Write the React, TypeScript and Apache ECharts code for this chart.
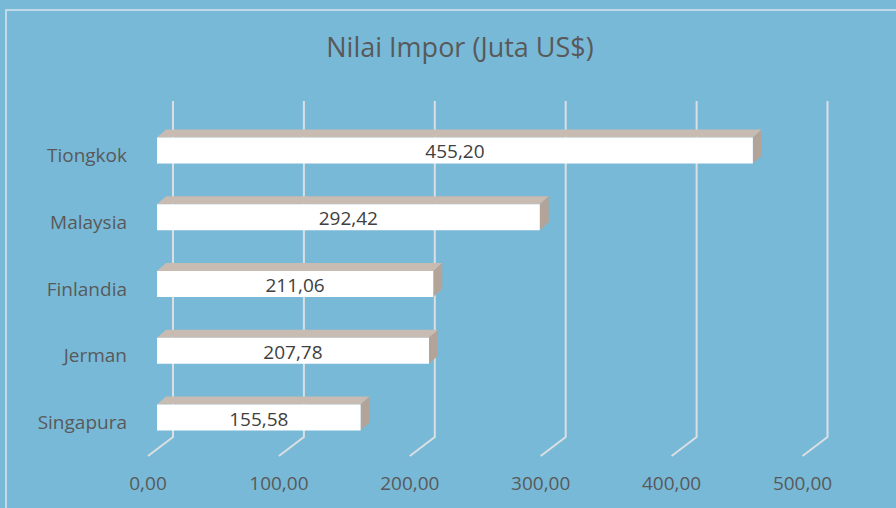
import React, { useEffect, useRef } from "react";
import * as echarts from "echarts";

const categories = ["Tiongkok", "Malaysia", "Finlandia", "Jerman", "Singapura"];
const values = [455.2, 292.42, 211.06, 207.78, 155.58];
const tickValues = [0, 100, 200, 300, 400, 500];
const titleText = "Nilai Impor (Juta US$)";

const fmt = (v: number) => v.toFixed(2).replace(".", ",");

export default function App() {
  const ref = useRef<HTMLDivElement>(null);
  useEffect(() => {
    document.body.style.margin = "0";
    const chart = echarts.init(ref.current!, undefined, { renderer: "svg" });
    const font = "'Open Sans', sans-serif";
    chart.setOption({
      animation: false,
      backgroundColor: "#78b9d8",
      title: {
        text: titleText,
        left: 455,
        textAlign: "center",
        top: 28,
        textStyle: { color: "#595959", fontSize: 27, fontWeight: "normal", fontFamily: font },
      },
      graphic: [
        {
          type: "rect",
          shape: { x: 6, y: 10, width: 900, height: 510 },
          style: { fill: "none", stroke: "#d6e6ef", lineWidth: 1.5 },
          silent: true,
        },
      ],
      grid: { left: 157, top: 117, width: 654.5, height: 334 },
      xAxis: {
        type: "value",
        min: 0,
        max: 500,
        interval: 100,
        axisLine: { show: false },
        axisTick: { show: false },
        splitLine: { show: false },
        axisLabel: {
          formatter: (v: number) => fmt(v),
          color: "#595959",
          fontSize: 19,
          fontFamily: font,
          margin: 22,
          padding: [0, 18, 0, 0],
        },
      },
      yAxis: {
        type: "category",
        data: categories,
        inverse: true,
        axisLine: { show: false },
        axisTick: { show: false },
        splitLine: { show: false },
        axisLabel: {
          margin: 30,
          formatter: (v: string) => `{c|${v}}`,
          rich: {
            c: {
              color: "#595959",
              fontSize: 19,
              fontFamily: font,
              padding: [9, 0, 0, 0],
            },
          },
        },
      },
      series: [
        {
          type: "custom",
          data: tickValues.map((t) => [t, 0]),
          encode: { x: 0, y: 1 },
          z: 1,
          silent: true,
          renderItem: (params: any, api: any) => {
            const p = api.coord([api.value(0), 0]);
            const cs = params.coordSys;
            const top = cs.y - 16;
            const bottom = cs.y + cs.height - 14;
            const front = cs.y + cs.height + 5;
            return {
              type: "polyline",
              shape: {
                points: [
                  [p[0] + 16, top],
                  [p[0] + 16, bottom],
                  [p[0] - 9, front],
                ],
              },
              style: { stroke: "#dcdfe2", lineWidth: 2, fill: "none" },
            };
          },
        },
        {
          type: "custom",
          data: values.map((v, i) => [v, i]),
          encode: { x: 0, y: 1 },
          z: 2,
          renderItem: (params: any, api: any) => {
            const v = api.value(0);
            const ci = api.value(1);
            const s = api.coord([0, ci]);
            const e = api.coord([v, ci]);
            const h = 26;
            const dx = 9;
            const dy = 8;
            const x0 = s[0];
            const x1 = e[0];
            const yc = s[1];
            const yt = yc - h / 2;
            const yb = yc + h / 2;
            return {
              type: "group",
              children: [
                {
                  type: "polygon",
                  shape: { points: [[x0, yt], [x0 + dx, yt - dy], [x1 + dx, yt - dy], [x1, yt]] },
                  style: { fill: "#c8bbb2" },
                },
                {
                  type: "polygon",
                  shape: { points: [[x1, yt], [x1 + dx, yt - dy], [x1 + dx, yb - dy], [x1, yb]] },
                  style: { fill: "#b3a49a" },
                },
                {
                  type: "rect",
                  shape: { x: x0, y: yt, width: x1 - x0, height: h },
                  style: { fill: "#ffffff" },
                },
                {
                  type: "text",
                  style: {
                    text: fmt(v),
                    x: (x0 + x1) / 2,
                    y: yc + 1,
                    align: "center",
                    verticalAlign: "middle",
                    fill: "#404040",
                    fontSize: 19,
                    fontFamily: font,
                  },
                },
              ],
            };
          },
        },
      ],
    });
    return () => chart.dispose();
  }, []);
  return <div ref={ref} style={{ width: 896, height: 508 }} />;
}
